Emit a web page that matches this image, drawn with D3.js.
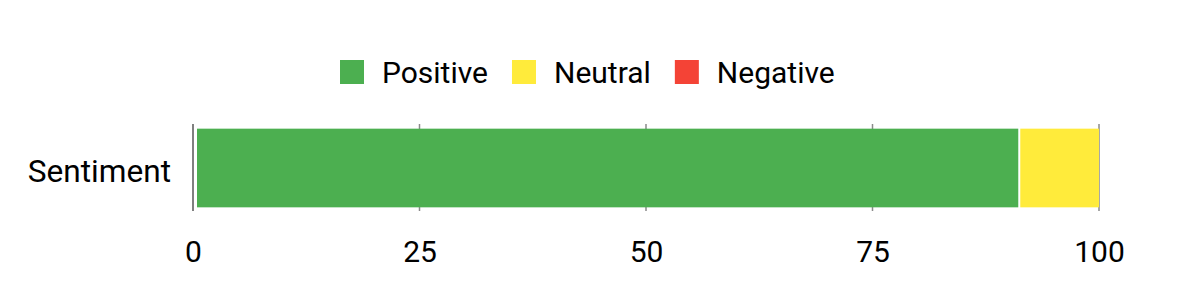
<!DOCTYPE html>
<html>
<head>
<meta charset="utf-8">
<script src="https://cdn.jsdelivr.net/npm/d3@7"></script>
<style>
  html, body { margin: 0; padding: 0; background: #fff; }
  svg { display: block; font-family: Roboto, "Noto Sans", sans-serif; }
</style>
</head>
<body>
<svg id="chart" width="1200" height="300"></svg>
<script>
const categories = ["Sentiment"];
const seriesNames = ["Positive", "Neutral", "Negative"];
const positiveValues = [91.2];
const neutralValues = [8.8];
const negativeValues = [0];
const tickValues = [0, 25, 50, 75, 100];
const seriesColors = ["#4CAF50", "#FFEB3B", "#F44336"];

const svg = d3.select("#chart");
const x = d3.scaleLinear().domain([0, 100]).range([193, 1099]);
const y = d3.scaleBand().domain(categories).range([124, 211]).paddingInner(0).paddingOuter(0.046);

// grid lines
svg.append("g").selectAll("line").data(tickValues.slice(1)).join("line")
  .attr("x1", d => x(d)).attr("x2", d => x(d))
  .attr("y1", 124).attr("y2", 211)
  .attr("stroke", "#8a8a8a").attr("stroke-width", 1.5);

// stacked data
const rows = categories.map((c, i) => ({ cat: c, Positive: positiveValues[i], Neutral: neutralValues[i], Negative: negativeValues[i] }));
const stack = d3.stack().keys(seriesNames)(rows);

stack.forEach((layer, si) => {
  svg.append("g").selectAll("rect").data(layer.filter(d => d[1] - d[0] > 0)).join("rect")
    .attr("x", d => x(d[0]) + (d[0] === 0 ? 4 : 1))
    .attr("width", d => x(d[1]) - x(d[0]) - (d[0] === 0 ? 4 : 1) - (d[1] >= 100 ? 0 : 1))
    .attr("y", d => y(d.data.cat) + 1)
    .attr("height", y.bandwidth() - 1)
    .attr("fill", seriesColors[si]);
});

// axis line at 0
svg.append("line").attr("x1", x(0)).attr("x2", x(0)).attr("y1", 124).attr("y2", 211)
  .attr("stroke", "#808080").attr("stroke-width", 2);

// x axis tick labels
const xAxis = d3.axisBottom(x).tickValues(tickValues).tickSize(0).tickPadding(0);
const gx = svg.append("g").attr("transform", "translate(0,262)").call(xAxis);
gx.select(".domain").remove();
gx.selectAll("text").attr("font-size", 30).attr("font-family", "Roboto, sans-serif")
  .attr("fill", "#000").attr("dy", "0");

// y axis labels
const yAxis = d3.axisLeft(y).tickSize(0).tickPadding(0);
const gy = svg.append("g").attr("transform", "translate(171,0)").call(yAxis);
gy.select(".domain").remove();
gy.selectAll("text").attr("font-size", 31.6).attr("font-family", "Roboto, sans-serif")
  .attr("fill", "#000").attr("dy", "14.5");

// legend
const legend = svg.append("g");
let cx = 340;
seriesNames.forEach((name, i) => {
  legend.append("rect").attr("x", cx).attr("y", 60).attr("width", 24).attr("height", 24).attr("fill", seriesColors[i]);
  const t = legend.append("text").attr("x", cx + 42).attr("y", 72).attr("dy", "0.35em")
    .attr("font-size", 30).attr("fill", "#000").text(name);
  cx = cx + 42 + t.node().getComputedTextLength() + 24;
});
</script>
</body>
</html>
